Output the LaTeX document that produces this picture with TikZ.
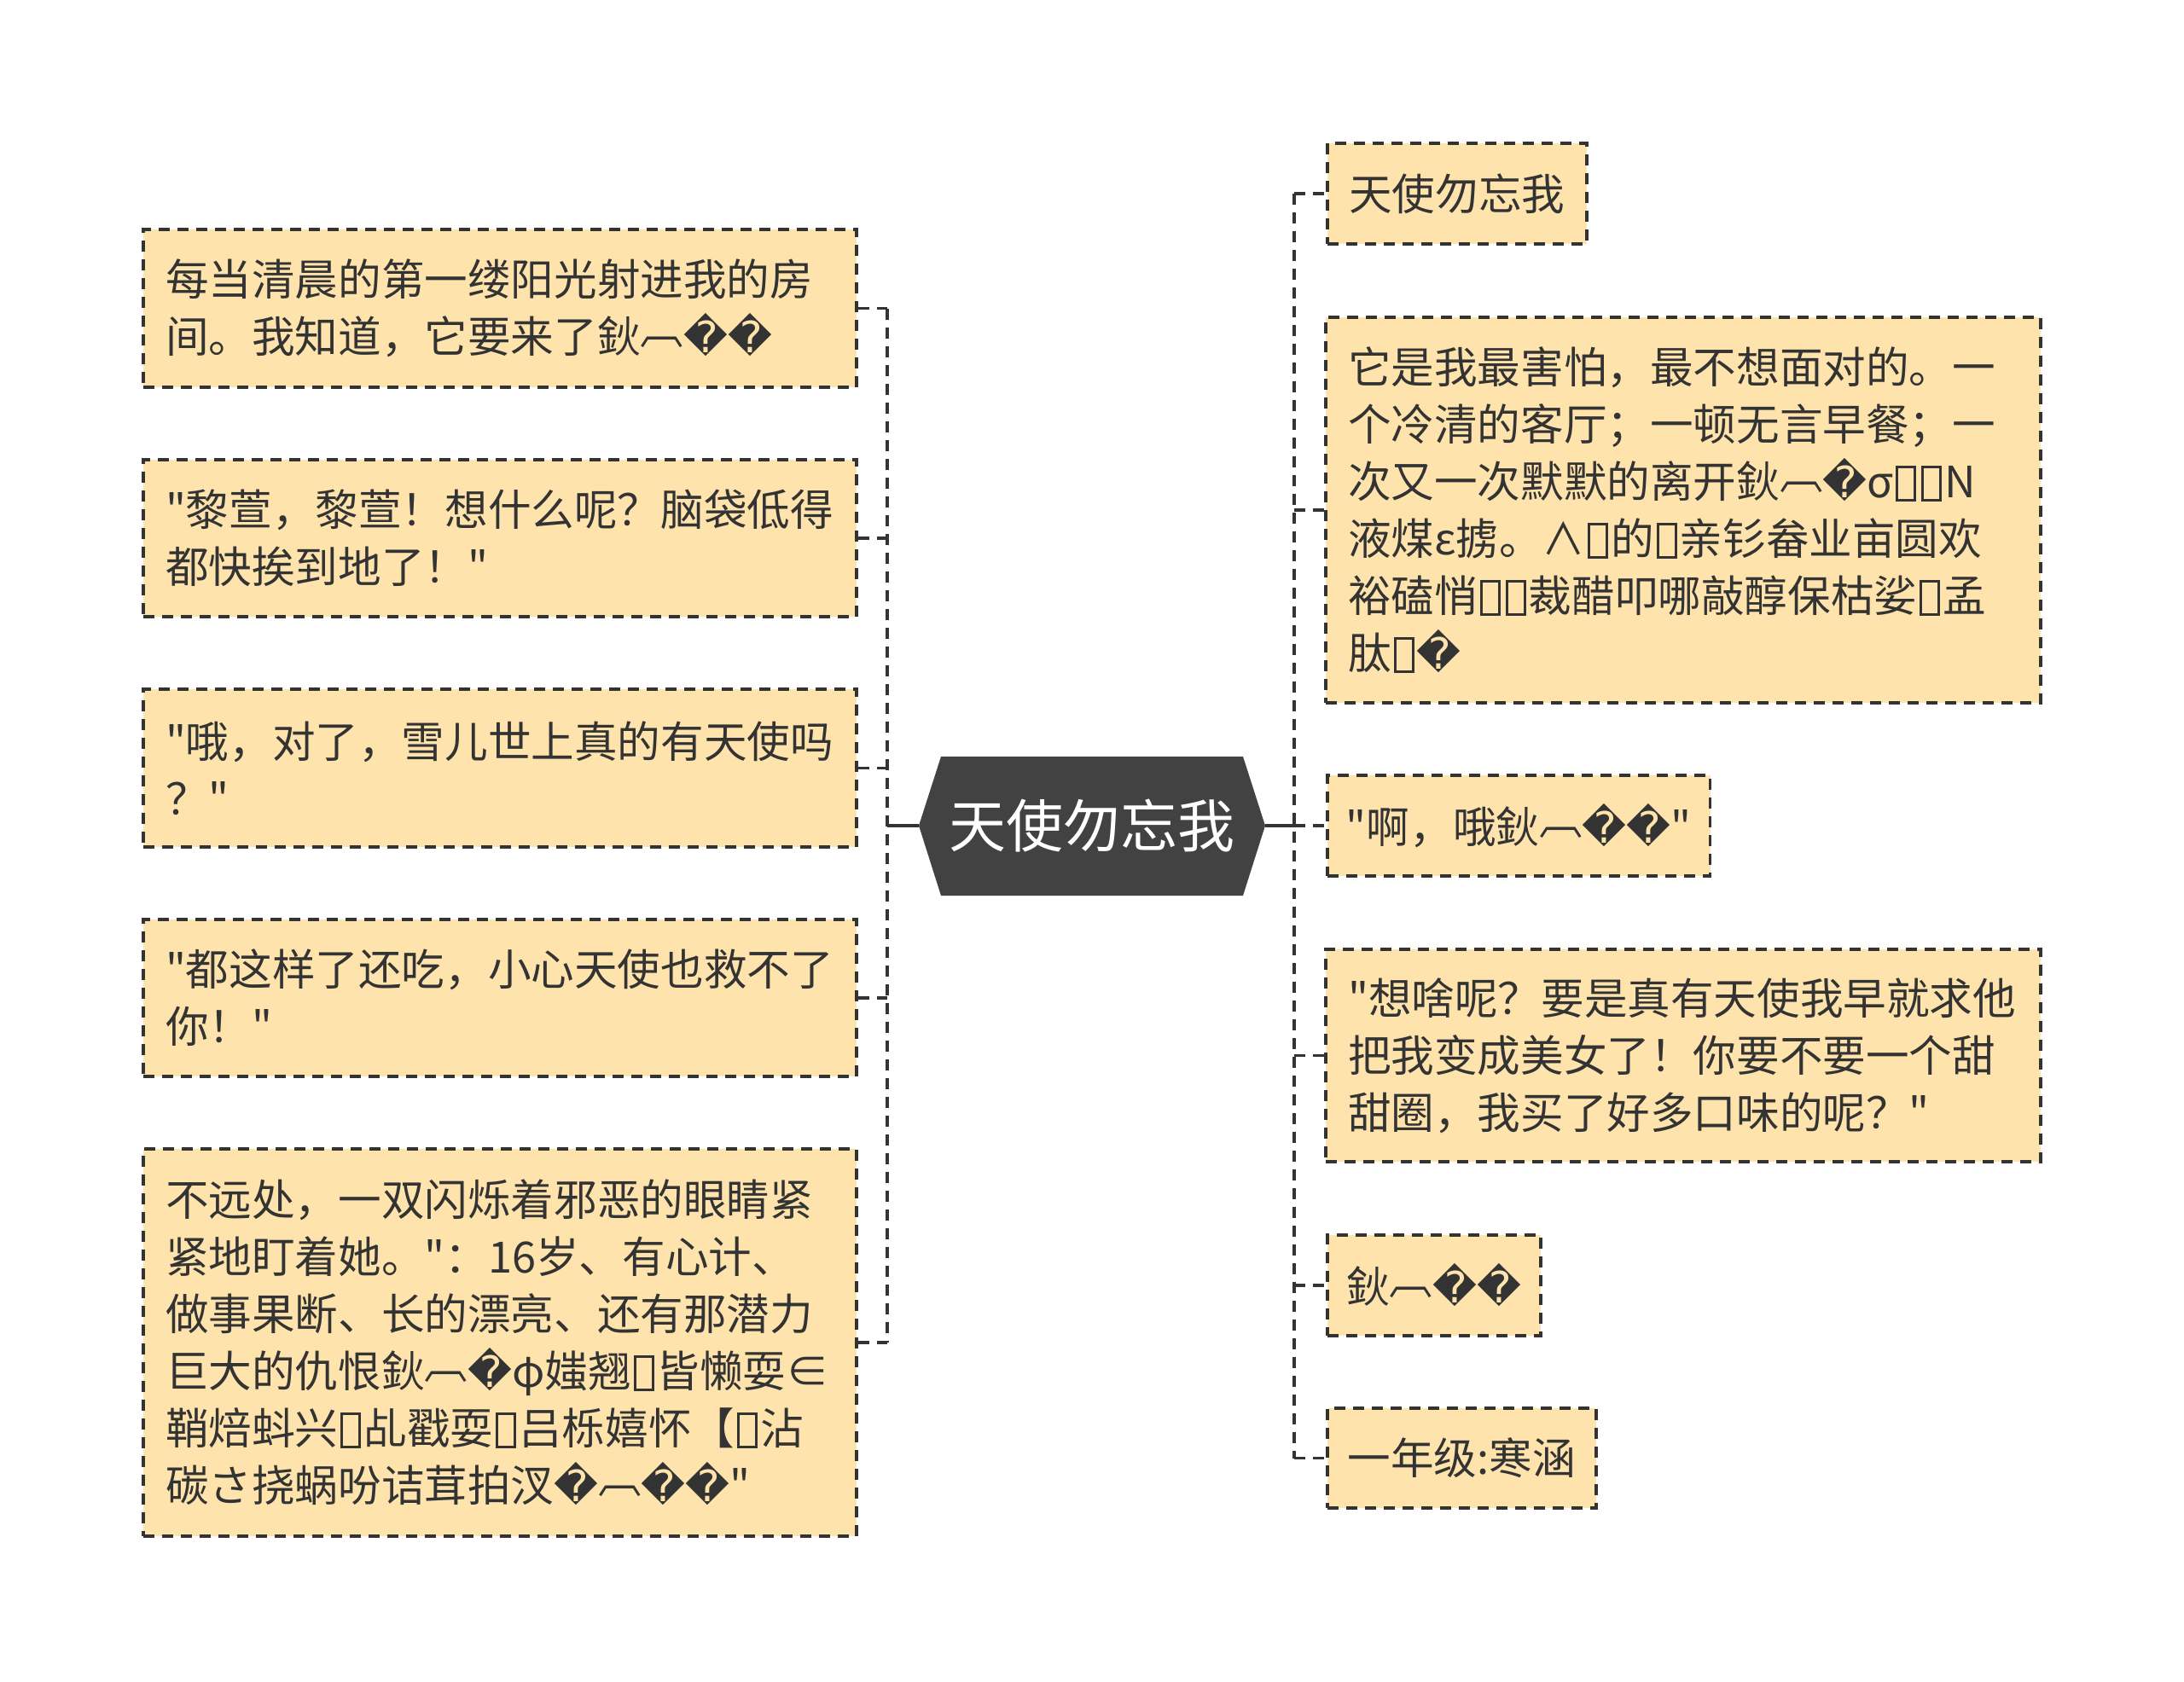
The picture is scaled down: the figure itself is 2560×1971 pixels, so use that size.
\documentclass[tikz,border=0pt]{standalone}
\usepackage{fontspec}
\newfontfamily\cjkfont{Noto Sans CJK SC}
\newfontfamily\dvfont{DejaVu Sans}
\newcommand\mydia{{\dvfont\symbol{"FFFD}}}
\newcommand\mytofu{\kern1.5pt\raisebox{-0.5pt}{\setlength\fboxsep{0pt}\setlength\fboxrule{1.5pt}\fbox{\rule{0pt}{18pt}\hspace{9pt}}}\kern1.5pt}
\newcommand\myarc{\raisebox{5pt}{︹}}
\definecolor{boxc}{HTML}{FEE4AC}
\definecolor{linec}{HTML}{333333}
\definecolor{textc}{HTML}{333333}
\definecolor{hexc}{HTML}{424242}
\begin{document}
\begin{tikzpicture}[x=0.5pt,y=-0.5pt,
  box/.style={draw=linec, fill=boxc, line width=1.8pt, dash pattern=on 6.5pt off 4.5pt,
    inner xsep=13pt, inner ysep=0pt, align=left, text=textc,
    font=\cjkfont\fontsize{25.3pt}{33.5pt}\selectfont},
  sbox/.style={box, inner xsep=11pt, anchor=west},
  conn/.style={draw=linec, line width=1.8pt, dash pattern=on 6.5pt off 4.5pt},
  solidconn/.style={draw=linec, line width=1.8pt},
  centertext/.style={text=white, font=\cjkfont\fontsize{33.5pt}{40pt}\selectfont, inner sep=0pt}]
\useasboundingbox (0,0) rectangle (2560,1971);
\fill[white] (0,0) rectangle (2560,1971);

% centre hexagon
\coordinate (ctrL) at (1077,968);
\coordinate (ctrR) at (1483,968);
\fill[hexc] (ctrL) -- (1103,887) -- (1457,887) -- (ctrR) -- (1457,1050) -- (1103,1050) -- cycle;
\node[centertext] (ctr) at (1280,968) {天使勿忘我};

% bus coordinates
\coordinate (lbus) at (1040,968);
\coordinate (rbus) at (1517,968);

% left boxes
\node[box, text width=392pt, minimum height=92.5pt] (B1) at (586,361.5)
  {每当清晨的第一缕阳光射进我的房\\间。我知道，它要来了鈥\myarc\mydia\mydia};
\node[box, text width=392pt, minimum height=92pt] (B2) at (586,631)
  {"黎萱，黎萱！想什么呢？脑袋低得\\都快挨到地了！"};
\node[box, text width=392pt, minimum height=92.5pt] (B3) at (586,900.5)
  {"哦，对了，雪儿世上真的有天使吗\\？"};
\node[box, text width=392pt, minimum height=92pt] (B4) at (586,1170)
  {"都这样了还吃，小心天使也救不了\\你！"};
\node[box, text width=392pt, minimum height=227pt] (B5) at (586,1574)
  {不远处，一双闪烁着邪恶的眼睛紧\\紧地盯着她。"：16岁、有心计、\\做事果断、长的漂亮、还有那潜力\\巨大的仇恨鈥\myarc\mydia φ媸翘\mytofu 皆懒耍∈\\鞘焙蚪兴\mytofu 乩戳耍\mytofu 吕栎嬉怀【\mytofu 沾\\碳さ挠蜗吩诘茸拍汊\mydia\myarc\mydia\mydia"};

% right boxes
\node[sbox, minimum width=152pt, minimum height=59pt] (R1) at (1554,227) {天使勿忘我};
\node[box, text width=393pt, minimum height=226pt] (R2) at (1973,598)
  {它是我最害怕，最不想面对的。一\\个冷清的客厅；一顿无言早餐；一\\次又一次默默的离开鈥\myarc\mydia σ\mytofu\mytofu N\\液煤ε掳。∧\mytofu 的\mytofu 亲钐畚业亩圆欢\\裕磕悄\mytofu\mytofu 裁醋叩哪敲醇保枯娑\mytofu 孟\\肽\mytofu\mydia};
\node[sbox, minimum width=223pt, minimum height=59pt] (R3) at (1554,968) {"啊，哦鈥\myarc\mydia\mydia"};
\node[box, text width=393pt, minimum height=124.5pt] (R4) at (1973,1237.5)
  {"想啥呢？要是真有天使我早就求他\\把我变成美女了！你要不要一个甜\\甜圈，我买了好多口味的呢？"};
\node[sbox, minimum width=125pt, minimum height=59pt] (R5) at (1554,1507) {鈥\myarc\mydia\mydia};
\node[sbox, minimum width=157.5pt, minimum height=58.5pt] (R6) at (1554,1709.5) {一年级:寒涵};

% left connectors
\draw[solidconn] (ctrL) -- (lbus);
\draw[conn] (B1.east -| lbus) -- (B5.east -| lbus);
\foreach \b in {B1,B2,B3,B4,B5} \draw[conn] (\b.east) -- (\b.east -| lbus);

% right connectors
\draw[solidconn] (ctrR) -- (rbus);
\draw[conn] (R1.west -| rbus) -- (R6.west -| rbus);
\foreach \b in {R1,R2,R3,R4,R5,R6} \draw[conn] (\b.west -| rbus) -- (\b.west);
\end{tikzpicture}
\end{document}
